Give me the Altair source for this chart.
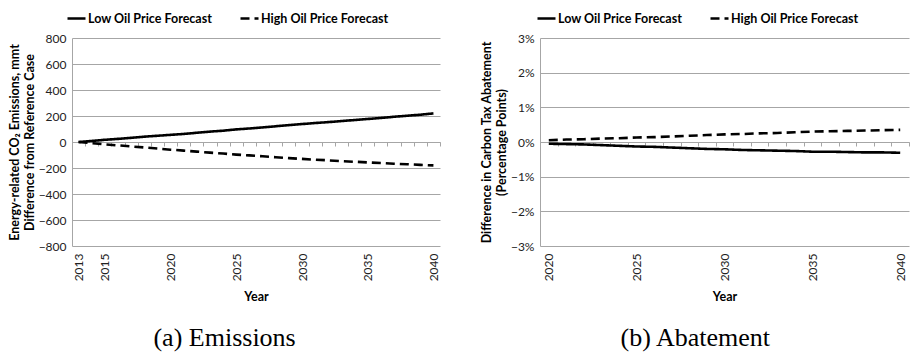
import altair as alt
import pandas as pd

SERIES = ["Low Oil Price Forecast", "High Oil Price Forecast"]

# (a) Emissions difference from reference case, mmt CO2
years_a = list(range(2013, 2041))
low_a = [0, 8, 17, 24, 32, 41, 48, 55, 62, 71, 80, 87, 97, 104, 112, 121, 130, 138, 146, 153, 161, 169, 177, 185, 194, 202, 210, 220]
high_a = [0, -9, -18, -26, -34, -42, -50, -59, -66, -74, -82, -89, -97, -103, -110, -117, -124, -130, -136, -141, -147, -152, -157, -162, -167, -171, -176, -180]
labels_a = [2013, 2015, 2020, 2025, 2030, 2035, 2040]
yticks_a = [-800, -600, -400, -200, 0, 200, 400, 600, 800]

# (b) Difference in carbon tax abatement, percentage points
years_b = list(range(2020, 2041))
low_b = [-0.0005, -0.0006, -0.0007, -0.0009, -0.0011, -0.0013, -0.0014, -0.0016, -0.0018, -0.0020, -0.0021, -0.0023, -0.0024, -0.0025, -0.0026, -0.0028, -0.0028, -0.0029, -0.0030, -0.0030, -0.0031]
high_b = [0.0005, 0.0007, 0.0008, 0.0010, 0.0011, 0.0013, 0.0014, 0.0016, 0.0018, 0.0020, 0.0022, 0.0023, 0.0025, 0.0026, 0.0028, 0.0030, 0.0031, 0.0032, 0.0033, 0.0034, 0.0035]
labels_b = [2020, 2025, 2030, 2035, 2040]
yticks_b = [-0.03, -0.02, -0.01, 0, 0.01, 0.02, 0.03]

GRID = "#a6a6a6"
FONT = "Lato"


def panel(years, low, high, label_years, y_dom, y_vals, y_fmt, y_title, caption, w, h, leg_x):
    df = pd.DataFrame({
        "Year": years * 2,
        "Value": low + high,
        "Series": [SERIES[0]] * len(years) + [SERIES[1]] * len(years),
    })
    lo, hi = years[0] - 0.5, years[-1] + 0.5
    bounds = [y - 0.5 for y in years] + [hi]
    xs = alt.Scale(domain=[lo, hi], nice=False, zero=False)
    ys = alt.Scale(domain=y_dom, nice=False, zero=False)

    # category tick marks sitting on the zero line
    ticks = alt.Chart(df).mark_line(opacity=0).encode(
        x=alt.X("Year:Q", scale=xs, axis=alt.Axis(
            values=bounds, labels=False, ticks=True, tickSize=4, tickColor=GRID,
            domain=True, domainColor=GRID, grid=False, title=None,
            orient="bottom", offset=-h / 2)),
        y=alt.Y("Value:Q", scale=ys, axis=None),
    )

    lines = alt.Chart(df).mark_line(strokeWidth=2.6, color="black").encode(
        x=alt.X("Year:Q", scale=xs, axis=alt.Axis(
            values=label_years, format="d", labelAngle=-90, ticks=False, orient="bottom",
            domain=False, grid=False, title="Year", labelPadding=7, titlePadding=10)),
        y=alt.Y("Value:Q", scale=ys, axis=alt.Axis(
            values=y_vals, format=y_fmt, title=y_title, ticks=False, grid=True, orient="left",
            domain=True, labelPadding=6, titlePadding=2)),
        strokeDash=alt.StrokeDash("Series:N", scale=alt.Scale(domain=SERIES, range=[[1, 0], [9, 5]]),
                                  legend=alt.Legend(
                                      title=None, orient="none", direction="horizontal",
                                      legendX=leg_x, legendY=-30, symbolType="stroke",
                                      symbolSize=324, symbolStrokeWidth=2.6, symbolStrokeColor="black",
                                      labelFont=FONT, labelFontWeight="bold", labelFontSize=12.5,
                                      labelColor="black", labelOffset=1, columnPadding=22)),
    )

    return alt.layer(ticks, lines).resolve_axis(x="independent", y="independent").properties(
        width=w, height=h,
        title=alt.Title(caption, orient="bottom", frame="bounds", font="Liberation Serif",
                        fontSize=26, fontWeight="normal", color="black", offset=22),
    )


left = panel(years_a, low_a, high_a, labels_a, [-800, 800], yticks_a, "d",
             ["Energy-related CO₂ Emissions, mmt", "Difference from Reference Case"],
             "(a) Emissions", 368, 208, -6)
right = panel(years_b, low_b, high_b, labels_b, [-0.03, 0.03], yticks_b, ".0%",
              ["Difference in Carbon Tax Abatement", "(Percentage Points)"],
              "(b) Abatement", 369, 208, -4)

chart = alt.hconcat(left, right, spacing=39).resolve_scale(
    strokeDash="independent").resolve_legend(strokeDash="independent").properties(
    padding={"left": 8, "top": 8, "right": 0, "bottom": 0}
).configure_view(stroke=None).configure_axis(
    labelFont=FONT, labelFontSize=12, labelColor="#222222",
    titleFont=FONT, titleFontSize=12.5, titleFontWeight="bold", titleColor="black",
    gridColor=GRID, domainColor=GRID, gridWidth=1,
)

chart.save("out.html", embed_options={"renderer": "svg", "actions": False})
